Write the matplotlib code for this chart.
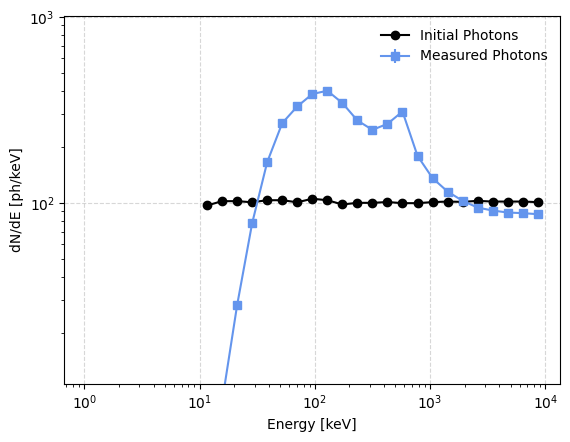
import matplotlib
matplotlib.use("Agg")
import matplotlib.pyplot as plt

# bin centres [keV]
energy = [11.62, 15.69, 21.20, 28.61, 38.64, 52.18, 70.44, 95.12, 128.4, 173.4,
          234.2, 316.2, 426.9, 576.5, 778.4, 1051, 1419, 1917, 2588, 3495,
          4719, 6372, 8604]

# spectre initial (plat ~100)
initial = [96.8, 102.1, 102.1, 100.7, 103.3, 103.3, 100.7, 105.2, 103.3, 98.0,
           100.0, 100.0, 101.0, 99.6, 99.6, 100.9, 101.6, 101.2, 102.5, 101.6,
           101.6, 101.6, 100.9]

# spectre mesuré
measured = [1.5, 8.5, 28.2, 77.7, 165.6, 268.5, 330.0, 384.9, 401.0, 344.5,
            277.4, 247.0, 266.0, 310.0, 179.0, 135.8, 115.0, 102.5, 94.3, 90.9,
            88.7, 88.0, 86.9]
measured_err = [0.3, 0.8, 1.5, 2.5, 3.5, 4.5, 5.0, 5.5, 5.5, 5.0,
                4.5, 4.2, 4.4, 4.8, 3.6, 3.1, 2.8, 2.6, 2.5, 2.4,
                2.3, 2.3, 2.3]

fig = plt.figure(figsize=(5.7, 4.42), dpi=100)
ax = fig.add_axes([0.1128, 0.1312, 0.983 - 0.1128, 0.9638 - 0.1312])

ax.plot(energy, initial, "o-", color="black", label="Initial Photons")
ax.errorbar(energy, measured, yerr=measured_err, fmt="s-", color="cornflowerblue",
            label="Measured Photons")

ax.set_xscale("log")
ax.set_yscale("log")
ax.set_xlim(0.671, 13490)
ax.set_ylim(10.6, 1012)

ax.set_xlabel("Energy [keV]")
ax.set_ylabel("dN/dE [ph/keV]")
ax.grid(True, which="major", linestyle="--", alpha=0.5)
ax.legend(loc="upper right", frameon=False)

fig.savefig("out.png", dpi=100)
